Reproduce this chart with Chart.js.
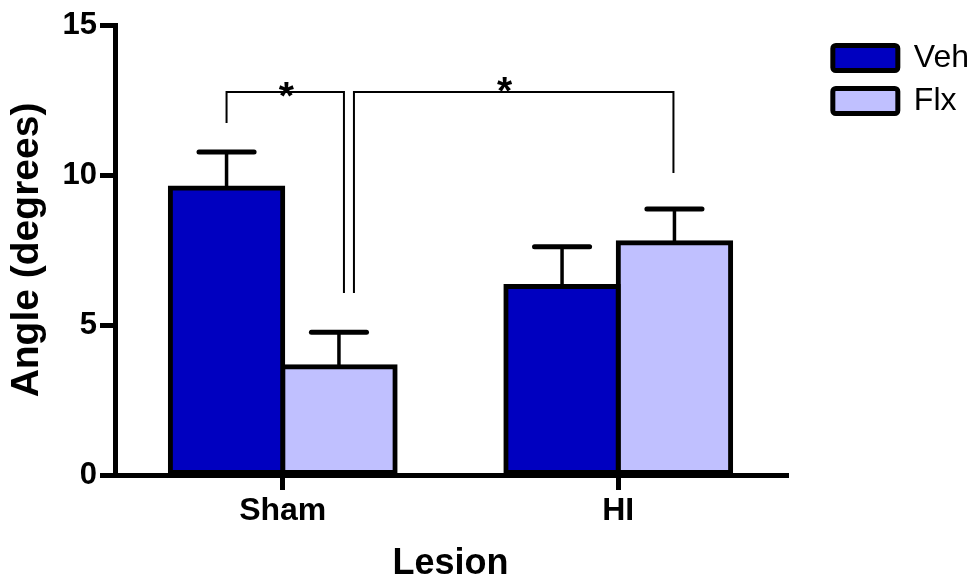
<!DOCTYPE html>
<html>
<head>
<meta charset="utf-8">
<script src="https://cdn.jsdelivr.net/npm/chart.js@4.4.1/dist/chart.umd.min.js"></script>
<style>
  html, body { margin: 0; padding: 0; background: #fff; }
  #wrap { width: 979px; height: 584px; }
</style>
</head>
<body>
<div id="wrap"><canvas id="c" width="979" height="584"></canvas></div>
<script>
const lesions = ['Sham', 'HI'];
const vehMean = [9.57, 6.28];
const vehSem = [1.2, 1.33];
const flxMean = [3.61, 7.74];
const flxSem = [1.15, 1.13];
const yTicks = [0, 5, 10, 15];

// significance brackets: ends are [dataset, category], heights in degrees
const brackets = [
  { from: [0, 0], to: [1, 0], top: 12.77, legs: [11.73, 6.07], label: '*' },
  { from: [1, 0], to: [1, 1], top: 12.77, legs: [6.07, 10.07], label: '*' }
];

const FONT = "'Liberation Sans', Arial, Helvetica, sans-serif";
Chart.defaults.font.family = FONT;
Chart.defaults.color = '#000';

const errorBars = {
  id: 'errorBars',
  afterDatasetsDraw(chart) {
    const ctx = chart.ctx;
    const y = chart.scales.y;
    const sems = [vehSem, flxSem];
    ctx.save();
    ctx.strokeStyle = '#000';
    ctx.lineCap = 'round';
    chart.data.datasets.forEach((ds, di) => {
      chart.getDatasetMeta(di).data.forEach((bar, i) => {
        const top = y.getPixelForValue(ds.data[i]);
        const hi = y.getPixelForValue(ds.data[i] + sems[di][i]);
        const half = bar.width * 0.245;
        ctx.lineWidth = 3.5;
        ctx.beginPath(); ctx.moveTo(bar.x, top); ctx.lineTo(bar.x, hi); ctx.stroke();
        ctx.lineWidth = 5;
        ctx.beginPath(); ctx.moveTo(bar.x - half, hi); ctx.lineTo(bar.x + half, hi); ctx.stroke();
      });
    });

    // brackets; small pixel nudges [left x, right x, star x, star y]
    const nudges = [[0, 5, 1, 17], [15, -1, -9, 12]];
    ctx.lineCap = 'butt';
    ctx.lineWidth = 2;
    ctx.fillStyle = '#000';
    ctx.font = 'bold 39px ' + FONT;
    ctx.textAlign = 'center';
    ctx.textBaseline = 'alphabetic';
    brackets.forEach((b, k) => {
      const x1 = chart.getDatasetMeta(b.from[0]).data[b.from[1]].x + nudges[k][0];
      const x2 = chart.getDatasetMeta(b.to[0]).data[b.to[1]].x + nudges[k][1];
      const yt = y.getPixelForValue(b.top);
      ctx.beginPath();
      ctx.moveTo(x1, y.getPixelForValue(b.legs[0]));
      ctx.lineTo(x1, yt);
      ctx.lineTo(x2, yt);
      ctx.lineTo(x2, y.getPixelForValue(b.legs[1]));
      ctx.stroke();
      ctx.fillText(b.label, (x1 + x2) / 2 + nudges[k][2], yt + nudges[k][3]);
    });
    ctx.restore();
  }
};

new Chart(document.getElementById('c'), {
  type: 'bar',
  data: {
    labels: lesions,
    datasets: [
      { label: 'Veh', data: vehMean, backgroundColor: '#0000C0', borderColor: '#000',
        borderWidth: 5, borderSkipped: false, inflateAmount: 2.5,
        categoryPercentage: 0.67, barPercentage: 1 },
      { label: 'Flx', data: flxMean, backgroundColor: '#C0C0FF', borderColor: '#000',
        borderWidth: 5, borderSkipped: false, inflateAmount: 2.5,
        categoryPercentage: 0.67, barPercentage: 1 }
    ]
  },
  options: {
    responsive: false,
    animation: false,
    layout: { padding: { top: 25, right: 0, bottom: 0, left: 0 } },
    plugins: {
      tooltip: { enabled: false },
      legend: {
        position: 'right',
        align: 'start',
        title: { display: true, text: ' ', font: { size: 6, lineHeight: 1 }, padding: 0 },
        labels: {
          boxWidth: 65, boxHeight: 25, padding: 11, color: '#000',
          font: { size: 32 }, useBorderRadius: true, borderRadius: 3
        }
      }
    },
    scales: {
      x: {
        offset: true,
        grid: { display: true, drawOnChartArea: false, offset: false, tickLength: 15,
                tickWidth: 5, tickColor: '#000', lineWidth: 5, color: '#000' },
        border: { display: true, color: '#000', width: 5 },
        ticks: { font: { size: 32, weight: 'bold' }, padding: 2, color: '#000', maxRotation: 0 },
        title: { display: true, text: 'Lesion', color: '#000',
                 font: { size: 36, weight: 'bold', lineHeight: 1 }, padding: { top: 0, bottom: 2 } },
        afterFit(s) { s.height = 109; s.paddingLeft = 0; s.paddingRight = 0; }
      },
      y: {
        min: 0, max: 15,
        afterBuildTicks(s) { s.ticks = yTicks.map(v => ({ value: v })); },
        ticks: { font: { size: 31, weight: 'bold' }, padding: 3, color: '#000' },
        grid: { drawOnChartArea: false, tickLength: 15, tickWidth: 5, tickColor: '#000', lineWidth: 5, color: '#000' },
        border: { display: true, color: '#000', width: 5 },
        title: { display: true, text: 'Angle (degrees)', color: '#000',
                 font: { size: 39, weight: 'bold', lineHeight: 1 }, padding: { top: 8, bottom: 0 } },
        afterFit(s) { s.width = 115; s.paddingTop = 0; s.paddingBottom = 0; }
      },
      gap: {
        axis: 'y', position: 'right', display: true,
        ticks: { display: false }, grid: { display: false }, border: { display: false },
        afterFit(s) {
          const lw = s.chart.legend ? s.chart.legend.width : 159;
          s.width = Math.max(0, 979 - 786 - lw);
        }
      }
    }
  },
  plugins: [errorBars]
});
</script>
</body>
</html>
